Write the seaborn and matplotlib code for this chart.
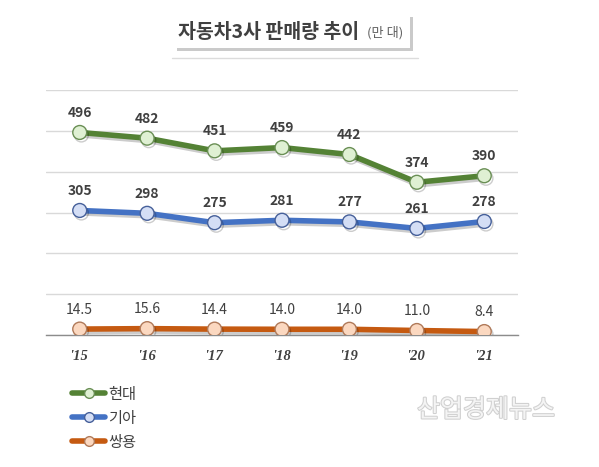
import matplotlib
matplotlib.use("Agg")
import matplotlib.pyplot as plt
import matplotlib.patheffects as pe
from matplotlib.patches import Rectangle
import seaborn as sns
import pandas as pd

# data
years = ["'15", "'16", "'17", "'18", "'19", "'20", "'21"]
hyundai = [496, 482, 451, 459, 442, 374, 390]
kia = [305, 298, 275, 281, 277, 261, 278]
ssangyong = [14.5, 15.6, 14.4, 14.0, 14.0, 11.0, 8.4]
series_names = ["현대", "기아", "쌍용"]

sns.set_style("white")
plt.rcParams['font.family'] = ['Noto Sans CJK KR', 'DejaVu Sans']

W, H = 599, 467
fig = plt.figure(figsize=(W / 100, H / 100), dpi=100)
ax = fig.add_axes([46 / W, 1 - 335 / H, 472 / W, 245 / H])

def fx(x):
    return x / W

def fy(y):
    return 1 - y / H

df = pd.DataFrame({
    "pos": list(range(len(years))) * 3,
    "value": hyundai + kia + ssangyong,
    "company": sum([[n] * len(years) for n in series_names], []),
})

line_colors = {"현대": "#548235", "기아": "#4472c4", "쌍용": "#c55a11"}
face_colors = {"현대": "#dff0d3", "기아": "#d4def5", "쌍용": "#fbd8c0"}
edge_colors = {"현대": "#6a8f55", "기아": "#46609a", "쌍용": "#b07a5a"}

shadow = [pe.SimpleLineShadow(offset=(1.2, -1.8), shadow_color="black", alpha=0.2), pe.Normal()]

for name in series_names:
    sub = df[df["company"] == name]
    sns.lineplot(data=sub, x="pos", y="value", ax=ax, color=line_colors[name],
                 linewidth=4, marker="o", markersize=10,
                 markerfacecolor=face_colors[name], markeredgecolor=edge_colors[name],
                 markeredgewidth=1.0, label=name, path_effects=shadow, zorder=3)
    for x, v in zip(sub["pos"], sub["value"]):
        if name == "쌍용":
            txt = f"{v:.1f}"
            weight = "normal"
        else:
            txt = f"{v:g}"
            weight = "bold"
        ax.annotate(txt, (x, v), xytext=(0, 14), textcoords="offset points",
                    ha="center", va="center", fontsize=10, fontweight=weight,
                    color="#404040", zorder=4)

ax.set_xlim(-0.5, len(years) - 0.5)
ax.set_ylim(0, 600)
ax.set_yticks(range(0, 601, 100))
ax.set_yticklabels([])
ax.tick_params(axis="y", length=0)
ax.set_xticks(range(len(years)))
ax.set_xticklabels(years, fontstyle="italic", fontweight="bold", fontsize=10.5,
                   color="#404040", family=["Liberation Serif"])
ax.tick_params(axis="x", length=0, pad=11)
ax.grid(axis="y", color="#d9d9d9", linewidth=1)
ax.set_xlabel("")
ax.set_ylabel("")
for s in ["top", "left", "right"]:
    ax.spines[s].set_visible(False)
ax.spines["bottom"].set_color("#8c8c8c")
ax.spines["bottom"].set_linewidth(1)

leg = ax.legend(loc="upper left", bbox_to_anchor=(fx(58), fy(372)),
                bbox_transform=fig.transFigure, frameon=False, fontsize=11,
                handlelength=2.2, handletextpad=0.2, labelspacing=0.45,
                labelcolor="#404040", markerscale=0.7)
for h in leg.legend_handles:
    h.set_path_effects([])

# title box with shadow
fig.patches.append(Rectangle((fx(177), fy(51)), fx(236), 34 / H, transform=fig.transFigure,
                             facecolor="#b4b4b4", edgecolor="none", alpha=0.7, zorder=0))
fig.patches.append(Rectangle((fx(174), fy(48)), fx(236), 34 / H, transform=fig.transFigure,
                             facecolor="white", edgecolor="none", zorder=1))
fig.lines.append(plt.Line2D([fx(172), fx(418)], [fy(58), fy(58)], transform=fig.transFigure,
                            color="#dcdcdc", linewidth=1))
fig.text(fx(178), fy(32), "자동차3사 판매량 추이", fontsize=14, fontweight="bold",
         color="#404040", ha="left", va="center", zorder=2)
fig.text(fx(367), fy(33), "(만 대)", fontsize=9.5, color="#606060",
         ha="left", va="center", zorder=2)

# watermark
fig.text(fx(486), fy(410), "산업경제뉴스", fontsize=18, color="#f4f4f4", ha="center", va="center",
         path_effects=[pe.withStroke(linewidth=1.5, foreground="#d0d0d0")])

fig.savefig("out.png", dpi=100)
